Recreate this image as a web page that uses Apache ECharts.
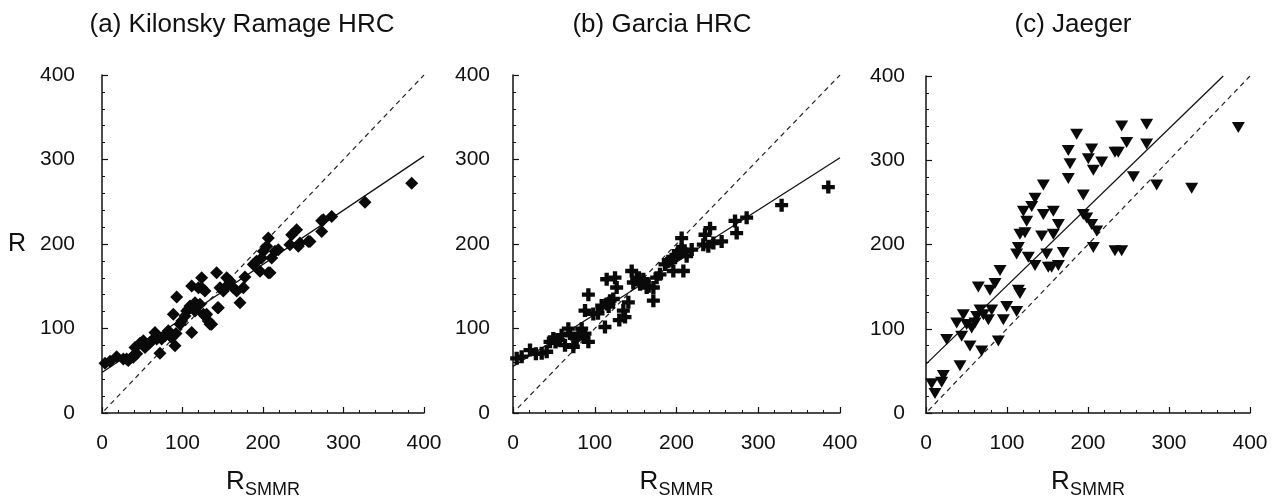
<!DOCTYPE html>
<html>
<head>
<meta charset="utf-8">
<script src="https://cdn.jsdelivr.net/npm/echarts@6/dist/echarts.min.js"></script>
<style>
html,body{margin:0;padding:0;background:#fff;}
#chart{width:1284px;height:504px;}
</style>
</head>
<body>
<div id="chart"></div>
<script>
// ---- Data ----
const titles = ['(a) Kilonsky Ramage HRC', '(b) Garcia HRC', '(c) Jaeger'];
const tickValues = [0, 100, 200, 300, 400];

// (a) Kilonsky Ramage HRC: [R_SMMR, R]
const kilonsky = [
  [3.7,58.8],[9.9,61.2],[18.2,66.7],[26.5,63.9],[32.7,62],[38.9,65.9],[41,77.6],[47.2,82.4],
  [51.3,85.5],[53.4,77.6],[57.6,81.6],[61.7,85.5],[65.8,95.3],[72,70.6],[74.1,87.5],[78.3,91.4],
  [82.4,97.3],[84.5,91.4],[90.7,79.6],[91.9,94.1],[88.6,116.9],[92.8,137.3],[99,109],[105.2,120.8],
  [109.3,126.7],[111.4,95.3],[113.5,126.7],[115.5,130.6],[111.4,150.2],[119.7,148.2],[123.8,160],
  [121.7,128.6],[125.9,116.9],[132.1,109],[134.2,105.1],[142.4,165.9],[144.5,124.7],[146.6,148.2],
  [150.7,144.3],[154.9,160],[156.9,152.2],[159,156.1],[163.1,148.2],[167.3,144.3],[171.4,130.6],
  [175.6,148.2],[177.6,160.8],[188,175.7],[192.1,179.6],[196.3,167.8],[198.3,183.5],[200.4,191.4],
  [204.6,197.3],[206.6,207.1],[208.7,165.9],[210.8,183.5],[214.9,191.4],[219,193.3],[233.5,199.2],
  [235.6,211],[241.8,216.9],[243.9,197.3],[246,201.2],[258.4,203.1],[272.9,214.9],[272.9,227.5],
  [285.3,232.5],[326.7,249.4],[384.7,271.8],
  [30.6,64],[36.9,66],[43.1,70],[59.6,83.5],[67.9,87.5],[86.5,89.4],[96.9,105.1],[103.1,114.9],
  [107.3,122.7],[115.5,120.8],[123.8,148.2],[128,114.9],[136.2,105.1],[143.7,124.7],[127.9,144.3],
  [130,116.9],[190,177.6],[206.6,165.9],[256.3,203.1],[275,228.6]
];

// (b) Garcia HRC
const garcia = [
  [4.5,64.7],[10.6,66.7],[20.8,74.5],[35.1,70.6],[41.2,72.5],[45.3,84.2],[49.3,88.1],[55.5,86.2],
  [59.5,92],[63.6,80.3],[67.7,99.8],[69.7,94],[73.8,78.4],[77.9,88.1],[84,99.8],[88.1,94],
  [92.2,84.2],[92.2,140],[88.1,121.2],[98.3,117.3],[108.5,127.1],[112.5,101.8],[114.6,129],
  [118.7,132.9],[122.7,134.9],[114.6,158.3],[124.8,160.2],[126.8,148.5],[137,113.5],[135,121.2],
  [141.1,131],[145.2,168],[147.2,154.4],[151.3,158.3],[155.4,152.4],[159.4,158.3],[163.5,148.5],
  [171.7,132.9],[171.7,148.5],[175.7,160.2],[179.8,164.1],[185.9,175.8],[190,179.7],[196.1,168],
  [198.2,183.6],[202.2,191.4],[206.3,207],[206.3,193.4],[208.4,168],[212.4,185.6],[218.6,193.4],
  [232.8,199.2],[234.9,210.9],[241,218.7],[238.9,197.3],[245.1,201.2],[255.2,203.1],[271.6,227.3],
  [273.6,212.9],[285.8,231.2],[328.6,246],[385.7,267.4],
  [28,70],[52,84],[80,92],[104,118],[117,126],[130,110],[154,160],[166,150],[194,182],[210,192]
];

// (c) Jaeger
const jaeger = [
  [7,34.7],[11.1,23],[19.3,36.6],[21.4,44.4],[25.5,87.3],[42,56.1],[37.9,106.8],[44,91.2],
  [46.1,116.6],[50.2,104.9],[54.3,79.5],[56.4,101],[60.5,106.8],[62.6,114.6],[64.6,149.7],
  [66.7,122.4],[68.7,73.7],[70.8,116.6],[77,110.7],[79,145.8],[81.1,122.4],[85.2,153.6],
  [89.3,85.4],[91.4,169.2],[95.5,110.7],[99.6,126.3],[111.9,120.5],[114,145.8],[116,141.9],
  [111.9,188.7],[114,196.5],[116,212.1],[122.2,214],[120.2,239.4],[124.3,227.7],[126.3,184.8],
  [130.5,245.2],[134.6,175],[134.6,255],[142.8,210.1],[144.9,235.5],[144.9,270.6],[149,188.7],
  [151,173.1],[155.1,173.1],[157.2,212.1],[157.2,239.4],[163.4,223.8],[163.4,175],[169.5,190.6],
  [175.7,278.4],[177.8,295.9],[175.7,311.5],[186,331],[194.2,258.9],[194.2,235.5],[198.4,231.6],
  [200.4,301.8],[204.5,313.5],[204.5,223.8],[206.6,288.1],[206.6,196.5],[210.7,216],[216.9,297.9],
  [233.3,309.6],[237.4,309.6],[233.3,192.6],[241.6,192.6],[241.6,340.7],[247.7,321.2],[256,280.3],
  [272.4,342.7],[272.4,319.3],[284.8,270.6],[328,266.7],[385.6,338.8]
];

// fitted (solid) lines and 1:1 (dashed) lines: endpoints [x, y]
const fitA = [[0,48],[400,304]];
const fitB = [[0,55],[400,302]];
const fitC = [[0,58],[367,400]];
const oneToOneA = [[3,3],[400,400]];
const oneToOneB = [[6,6],[400,400]];
const oneToOneC = [[3,3],[400,400]];

// ---- Chart ----
const FONT = '"Liberation Sans", Arial, Helvetica, sans-serif';
const grids = [
  {left:102, top:75, width:322, height:341},
  {left:513, top:75, width:327, height:342},
  {left:926, top:76, width:324, height:342}
];
const labelMarginsY = [27, 23, 21];

const plusPath = 'path://M4,0H8V4H12V8H8V12H4V8H0V4H4Z';

function xAxisFor(i){
  return {
    gridIndex:i, type:'value', min:0, max:400, interval:100,
    axisLine:{show:true, onZero:false, lineStyle:{color:'#111', width:1.5}},
    axisTick:{show:true, inside:true, length:6, lineStyle:{color:'#111', width:1.2}},
    minorTick:{show:true, splitNumber:5, length:3, lineStyle:{color:'#111', width:1}},
    splitLine:{show:false}, minorSplitLine:{show:false},
    axisLabel:{fontSize:21, color:'#111', fontFamily:FONT, margin:20},
    name:'{r|R}{s|SMMR}', nameLocation:'middle', nameGap:56,
    nameTextStyle:{
      color:'#111', fontFamily:FONT,
      rich:{
        r:{fontSize:26, color:'#111', fontFamily:FONT, verticalAlign:'top'},
        s:{fontSize:18, color:'#111', fontFamily:FONT, verticalAlign:'top', padding:[12,0,0,0]}
      }
    }
  };
}
function yAxisFor(i){
  const ax = {
    gridIndex:i, type:'value', min:0, max:400, interval:100,
    axisLine:{show:true, onZero:false, lineStyle:{color:'#111', width:1.5}},
    axisTick:{show:true, inside:true, length:6, lineStyle:{color:'#111', width:1.2}},
    minorTick:{show:true, splitNumber:5, length:3, lineStyle:{color:'#111', width:1}},
    splitLine:{show:false}, minorSplitLine:{show:false},
    axisLabel:{fontSize:21, color:'#111', fontFamily:FONT, margin:labelMarginsY[i]}
  };
  if(i===0){
    ax.name='R'; ax.nameLocation='middle'; ax.nameGap=76; ax.nameRotate=0;
    ax.nameTextStyle={fontSize:25, color:'#111', fontFamily:FONT};
  }
  return ax;
}

const scatterData = [kilonsky, garcia, jaeger];
const fits = [fitA, fitB, fitC];
const ones = [oneToOneA, oneToOneB, oneToOneC];
const symbols = [
  {symbol:'diamond', symbolSize:[13,13], symbolRotate:0},
  {symbol:plusPath, symbolSize:[13,13], symbolRotate:0},
  {symbol:'triangle', symbolSize:[13,11], symbolRotate:180}
];

const series = [];
for(let i=0;i<3;i++){
  series.push({
    type:'line', xAxisIndex:i, yAxisIndex:i, data:ones[i], symbol:'none', silent:true,
    lineStyle:{color:'#222', width:1.2, type:[5,4]}, z:2
  });
  series.push({
    type:'line', xAxisIndex:i, yAxisIndex:i, data:fits[i], symbol:'none', silent:true,
    lineStyle:{color:'#111', width:1.3, type:'solid'}, z:2
  });
  series.push(Object.assign({
    type:'scatter', xAxisIndex:i, yAxisIndex:i, data:scatterData[i],
    itemStyle:{color:'#0a0a0a', opacity:1}, z:3
  }, symbols[i]));
}

const centers = [237, 657, 1068];
const chart = echarts.init(document.getElementById('chart'), null, {renderer:'canvas'});
chart.setOption({
  backgroundColor:'#ffffff',
  animation:false,
  title: titles.map((t,i)=>({
    text:t, left:centers[i], top:7, textAlign:'center',
    textStyle:{fontSize:26, fontWeight:'normal', color:'#111', fontFamily:FONT}
  })),
  grid: grids.map(g=>Object.assign({containLabel:false}, g)),
  xAxis:[0,1,2].map(xAxisFor),
  yAxis:[0,1,2].map(yAxisFor),
  series:series
});
</script>
</body>
</html>
